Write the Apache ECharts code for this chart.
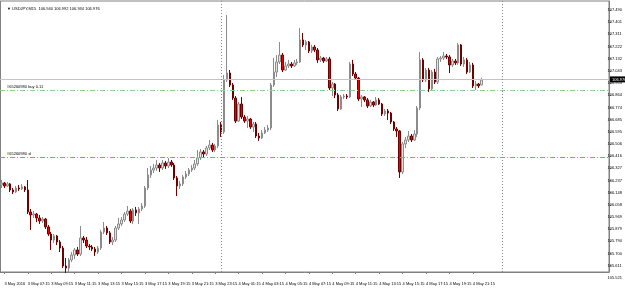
<!DOCTYPE html>
<html><head><meta charset="utf-8">
<script src="https://cdn.jsdelivr.net/npm/echarts@6/dist/echarts.min.js"></script>
<style>html,body{margin:0;padding:0;background:#fff}#c{width:625px;height:288px}</style>
</head><body><div id="c"></div>
<script>
const symbolTitle = "USDJPY,M15";
const opens = [106.204,106.219,106.197,106.212,106.168,106.153,106.182,106.175,106.190,106.168,
106.006,105.984,105.991,105.962,105.940,105.954,105.896,105.844,105.800,105.830,
105.785,105.741,105.609,105.594,105.653,105.690,105.727,105.697,105.815,105.800,
105.756,105.749,105.734,105.712,105.741,105.859,105.888,105.852,105.785,105.800,
105.888,105.918,105.947,105.991,106.013,105.940,106.021,105.999,106.028,106.050,
106.182,106.278,106.314,106.329,106.351,106.329,106.366,106.344,106.373,106.351,
106.256,106.197,106.212,106.263,106.285,106.314,106.329,106.359,106.403,106.447,
106.432,106.476,106.498,106.461,106.491,106.645,106.594,106.976,107.027,106.939,
106.843,106.674,106.799,106.704,106.674,106.689,106.630,106.652,106.564,106.550,
106.586,106.608,106.623,106.939,107.034,107.108,107.159,107.049,107.079,107.093,
107.079,107.101,107.108,107.270,107.233,107.255,107.189,107.218,107.196,107.123,
107.137,107.115,107.130,106.917,106.946,106.865,106.763,106.851,106.858,106.851,
107.093,107.020,106.990,106.836,106.851,106.829,106.785,106.814,106.792,106.829,
106.799,106.726,106.748,106.733,106.667,106.616,106.601,106.300,106.506,106.535,
106.564,106.535,106.579,106.770,107.123,106.976,107.049,106.910,107.034,106.961,
107.130,107.137,107.152,107.145,107.086,107.115,107.101,107.233,107.093,107.123,
107.034,107.086,106.932,106.946,106.940];
const closes = [106.219,106.197,106.212,106.168,106.153,106.182,106.175,106.190,106.168,106.006,
105.984,105.991,105.962,105.940,105.954,105.896,105.844,105.800,105.830,105.785,
105.741,105.609,105.594,105.653,105.690,105.727,105.697,105.815,105.800,105.756,
105.749,105.734,105.712,105.741,105.859,105.888,105.852,105.785,105.800,105.888,
105.918,105.947,105.991,106.013,105.940,106.021,105.999,106.028,106.050,106.182,
106.278,106.314,106.329,106.351,106.329,106.366,106.344,106.373,106.351,106.256,
106.197,106.212,106.263,106.285,106.314,106.329,106.359,106.403,106.447,106.432,
106.476,106.498,106.461,106.491,106.645,106.594,106.976,107.027,106.939,106.843,
106.674,106.799,106.704,106.674,106.689,106.630,106.652,106.564,106.550,106.586,
106.608,106.623,106.939,107.034,107.108,107.159,107.049,107.079,107.093,107.079,
107.101,107.108,107.270,107.233,107.255,107.189,107.218,107.196,107.123,107.137,
107.115,107.130,106.917,106.946,106.865,106.763,106.851,106.858,106.851,107.093,
107.020,106.990,106.836,106.851,106.829,106.785,106.814,106.792,106.829,106.799,
106.726,106.748,106.733,106.667,106.616,106.601,106.300,106.506,106.535,106.564,
106.535,106.579,106.770,107.123,106.976,107.049,106.910,107.034,106.961,107.130,
107.137,107.152,107.145,107.086,107.115,107.101,107.233,107.093,107.123,107.034,
107.086,106.932,106.946,106.932,106.976];
const highs = [106.241,106.226,106.226,106.219,106.182,106.197,106.204,106.212,106.197,106.241,
106.028,106.013,105.999,105.984,105.969,105.962,105.910,105.859,105.844,105.837,
105.800,105.756,105.668,105.668,105.712,105.741,105.749,105.903,105.830,105.822,
105.771,105.763,105.749,105.756,105.874,105.932,105.903,105.866,105.822,105.903,
105.962,105.969,106.006,106.050,106.028,106.035,106.043,106.043,106.072,106.197,
106.329,106.344,106.359,106.388,106.366,106.388,106.381,106.403,106.388,106.366,
106.270,106.234,106.278,106.307,106.329,106.351,106.388,106.461,106.469,106.461,
106.491,106.535,106.513,106.506,106.682,106.667,107.012,107.453,107.049,106.954,
106.858,106.814,106.851,106.719,106.711,106.696,106.667,106.667,106.586,106.608,
106.630,106.645,106.954,107.137,107.159,107.255,107.174,107.108,107.123,107.108,
107.123,107.130,107.358,107.321,107.270,107.262,107.233,107.233,107.211,107.152,
107.145,107.145,107.145,106.961,106.954,106.880,106.865,106.873,106.873,107.108,
107.123,107.034,106.998,106.865,106.858,106.843,106.829,106.821,106.851,106.843,
106.807,106.763,106.763,106.741,106.674,106.630,106.608,106.520,106.557,106.601,
106.579,106.608,106.785,107.181,107.137,107.064,107.064,107.049,107.057,107.145,
107.152,107.181,107.167,107.159,107.130,107.130,107.248,107.240,107.145,107.137,
107.108,107.101,106.968,106.954,106.992];
const lows = [106.182,106.182,106.190,106.153,106.138,106.145,106.160,106.168,106.153,105.991,
105.874,105.962,105.932,105.918,105.925,105.881,105.830,105.727,105.778,105.763,
105.712,105.594,105.558,105.565,105.638,105.660,105.683,105.683,105.778,105.741,
105.727,105.719,105.683,105.697,105.727,105.844,105.837,105.771,105.763,105.785,
105.874,105.903,105.932,105.977,105.925,105.918,105.977,105.918,106.013,106.035,
106.168,106.256,106.292,106.307,106.300,106.314,106.322,106.329,106.337,106.241,
106.123,106.175,106.197,106.248,106.270,106.300,106.314,106.344,106.388,106.410,
106.417,106.461,106.447,106.447,106.476,106.557,106.579,106.961,106.924,106.829,
106.660,106.667,106.689,106.660,106.623,106.616,106.594,106.550,106.528,106.542,
106.579,106.594,106.608,106.924,106.998,107.093,107.034,107.042,107.064,107.064,
107.071,107.086,107.101,107.218,107.196,107.174,107.174,107.181,107.101,107.108,
107.101,107.108,106.902,106.858,106.843,106.748,106.755,106.836,106.836,106.843,
107.005,106.976,106.821,106.777,106.814,106.770,106.777,106.777,106.785,106.792,
106.711,106.711,106.682,106.652,106.601,106.557,106.256,106.285,106.476,106.520,
106.520,106.528,106.557,106.755,106.961,106.961,106.888,106.902,106.946,106.946,
107.108,107.123,107.130,107.027,107.071,107.086,107.086,107.079,107.071,107.020,
107.027,106.917,106.902,106.917,106.934];
const priceTicks = [107.490,107.401,107.311,107.222,107.132,107.043,106.953,106.864,106.774,106.685,
106.595,106.506,106.416,106.327,106.237,106.148,106.058,105.969,105.879,105.790,105.700,105.611,105.521];
const timeTickLabels = ["3 May 2016","3 May 07:15","3 May 09:15","3 May 11:15","3 May 13:15","3 May 15:15",
"3 May 17:15","3 May 19:15","3 May 21:15","3 May 23:15","4 May 01:15","4 May 03:15","4 May 05:15",
"4 May 07:15","4 May 09:15","4 May 11:15","4 May 13:15","4 May 15:15","4 May 17:15","4 May 19:15","4 May 21:15"];
const bidPrice = 106.976;
const buyOrderPrice = 106.904;
const stopLossPrice = 106.413;
const buyLabel = "#65260980 buy 0.11";
const slLabel = "#65260980 sl";
const daySeparatorIdx = [75, 171];

// axis extents (visible price window)
const yMax = 107.556, yMin = 105.565, yMinLabels = 105.521;
const N_SLOTS = 208;
const categories = [];
for (let i = 0; i < N_SLOTS; i++) {
  const m = 5*60 + 15 + 15*i;
  const d = 3 + Math.floor(m/1440), mm = m % 1440;
  categories.push(d + ' May ' + String(Math.floor(mm/60)).padStart(2,'0') + ':' + String(mm%60).padStart(2,'0'));
}
const candleData = opens.map((o, i) => [o, closes[i], lows[i], highs[i]]);
const last = opens.length - 1;
const titleText = '\u25BC ' + symbolTitle + '  ' + [opens[last], highs[last], lows[last], closes[last]].map(v => v.toFixed(3)).join(' ');
const isTimeTick = idx => idx % 8 === 1 && (idx - 1) / 8 < timeTickLabels.length;
const FONT = 'Liberation Sans, Arial, sans-serif';
const dashDot = [5, 2, 1, 2];

const orderLine = (price, color, text) => ({
  yAxis: price,
  lineStyle: {color: color, type: dashDot, width: 1, opacity: 1},
  label: {show: true, position: 'insideStartTop', formatter: text, color: '#000', fontSize: 4, distance: [7, 1], fontFamily: FONT}
});

const chart = echarts.init(document.getElementById('c'), null, {renderer: 'canvas'});
chart.setOption({
  animation: false,
  backgroundColor: '#ffffff',
  title: {text: titleText, left: 2, top: 2, textStyle: {fontSize: 4, fontWeight: 'normal', color: '#000', fontFamily: FONT}},
  grid: [
    {left: -3, right: 16, top: 1, bottom: 16, show: true, borderColor: '#808080', borderWidth: 1, backgroundColor: 'transparent'},
    {left: -3, right: 16, top: 1, bottom: 10, show: false}
  ],
  xAxis: [
    {type: 'category', gridIndex: 0, data: categories, boundaryGap: true,
     axisLine: {lineStyle: {color: '#808080'}},
     axisTick: {show: true, alignWithLabel: true, interval: isTimeTick, length: 2, lineStyle: {color: '#808080'}},
     axisLabel: {interval: isTimeTick, formatter: (v, idx) => timeTickLabels[(idx-1)/8] || '', align: 'left', margin: 10, fontSize: 4, color: '#000', fontFamily: FONT},
     splitLine: {show: false}},
    {type: 'category', gridIndex: 1, data: categories, show: false}
  ],
  yAxis: [
    {type: 'value', gridIndex: 0, position: 'right', min: yMin, max: yMax, scale: true,
     axisLine: {show: true, lineStyle: {color: '#808080'}},
     axisTick: {show: true, length: 2, customValues: priceTicks.filter(v => v >= yMin && v <= yMax), lineStyle: {color: '#808080'}},
     axisLabel: {show: false}, splitLine: {show: false}},
    {type: 'value', gridIndex: 1, position: 'right', min: yMinLabels, max: yMax, scale: true,
     axisLine: {show: false}, axisTick: {show: false}, splitLine: {show: false},
     axisLabel: {show: true, customValues: priceTicks, formatter: v => Number(v).toFixed(3), margin: 3, fontSize: 4, color: '#000', fontFamily: FONT}}
  ],
  series: [
    {
      type: 'candlestick', xAxisIndex: 0, yAxisIndex: 0, data: candleData, barWidth: 2,
      itemStyle: {color: '#e4e4e4', color0: '#ee0000', borderColor: '#8c8c8c', borderColor0: '#6e0000', borderWidth: 1},
      markLine: {
        silent: true, symbol: ['none', 'none'], animation: false,
        data: [
          {yAxis: bidPrice, lineStyle: {color: '#c4c4c4', type: 'solid', width: 1},
           label: {show: true, position: 'end', formatter: bidPrice.toFixed(3), backgroundColor: '#000', color: '#fff', fontSize: 4, padding: [1, 2], distance: 1, fontFamily: FONT}},
          orderLine(buyOrderPrice, '#8fd08f', buyLabel),
          orderLine(stopLossPrice, '#ff7a3c', slLabel),
          ...daySeparatorIdx.map(i => ({xAxis: categories[i], lineStyle: {color: '#8a8a8a', type: [1, 2], width: 1}, label: {show: false}}))
        ]
      }
    }
  ],
  graphic: [{type: 'line', shape: {x1: 0.5, y1: 1, x2: 0.5, y2: 272}, style: {stroke: '#808080', lineWidth: 1}, silent: true}]
});
</script></body></html>
